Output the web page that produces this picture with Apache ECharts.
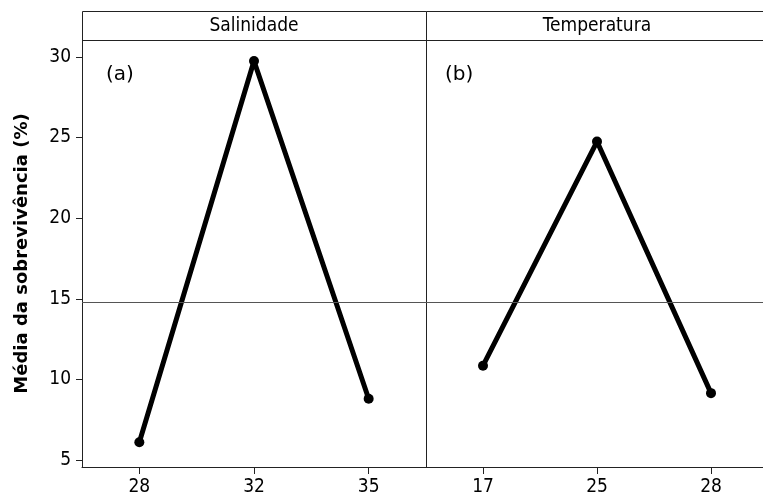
<!DOCTYPE html>
<html>
<head>
<meta charset="utf-8">
<script src="https://cdn.jsdelivr.net/npm/echarts@6/dist/echarts.min.js"></script>
<style>html,body{margin:0;padding:0;background:#fff;overflow:hidden}#c{width:763px;height:500px}</style>
</head>
<body>
<div id="c"></div>
<script>
const salCats = ['28', '32', '35'];
const salVals = [6.1, 29.75, 8.8];
const tempCats = ['17', '25', '28'];
const tempVals = [10.85, 24.75, 9.15];
const meanVal = 14.8;
const yTicks = [5, 10, 15, 20, 25, 30];
const panelNames = ['Salinidade', 'Temperatura'];
const panelTags = ['(a)', '(b)'];
const yName = 'Média da sobrevivência (%)';

const FONT = 'DejaVu Sans Condensed';
const chart = echarts.init(document.getElementById('c'), null, {renderer: 'canvas'});

function xAx(idx, cats) {
  return {
    type: 'category', gridIndex: idx, data: cats, boundaryGap: true,
    axisLine: {show: true, lineStyle: {color: '#222', width: 1}},
    axisTick: {show: true, alignWithLabel: true, length: 7, lineStyle: {color: '#222'}},
    axisLabel: {color: '#000', fontFamily: FONT, fontSize: 19, margin: 11},
    splitLine: {show: false}
  };
}
function yAx(idx, show) {
  return {
    type: 'value', gridIndex: idx, min: 4.57, max: 31.05,
    name: show ? yName : '', nameLocation: 'middle', nameGap: 51,
    nameTextStyle: {fontFamily: 'DejaVu Sans', fontWeight: 'bold', fontSize: 18, color: '#000'},
    axisLine: {show: true, lineStyle: {color: '#222', width: 1}},
    axisTick: {show: show, length: 6, customValues: yTicks, lineStyle: {color: '#222'}},
    axisLabel: {show: show, customValues: yTicks, color: '#000', fontFamily: FONT, fontSize: 19, margin: 11},
    splitLine: {show: false}
  };
}
function ser(idx, vals) {
  return {
    type: 'line', xAxisIndex: idx, yAxisIndex: idx, data: vals,
    symbol: 'circle', symbolSize: 10, showSymbol: true,
    lineStyle: {color: '#000', width: 5}, itemStyle: {color: '#000'},
    animation: false, silent: true,
    markLine: {
      silent: true, symbol: 'none', label: {show: false},
      lineStyle: {color: '#555', width: 1, type: 'solid'},
      data: [{yAxis: meanVal}]
    }
  };
}

chart.setOption({
  animation: false,
  grid: [
    {left: 82, top: 40, width: 344, bottom: 33, outerBoundsMode: 'none', containLabel: false, show: false},
    {left: 426, top: 40, width: 342, bottom: 33, outerBoundsMode: 'none', containLabel: false, show: false}
  ],
  xAxis: [xAx(0, salCats), xAx(1, tempCats)],
  yAxis: [yAx(0, true), yAx(1, false)],
  series: [ser(0, salVals), ser(1, tempVals)],
  graphic: [
    {type: 'rect', shape: {x: 82.5, y: 11.5, width: 344, height: 29}, style: {fill: '#fff', stroke: '#222', lineWidth: 1}},
    {type: 'rect', shape: {x: 426.5, y: 11.5, width: 345, height: 29}, style: {fill: '#fff', stroke: '#222', lineWidth: 1}},
    {type: 'text', x: 254, y: 26, style: {text: panelNames[0], fontFamily: FONT, fontSize: 19, fill: '#000', align: 'center', verticalAlign: 'middle'}},
    {type: 'text', x: 597, y: 26, style: {text: panelNames[1], fontFamily: FONT, fontSize: 19, fill: '#000', align: 'center', verticalAlign: 'middle'}},
    {type: 'text', x: 106, y: 75, style: {text: panelTags[0], fontFamily: 'DejaVu Sans', fontSize: 20, fill: '#000', align: 'left', verticalAlign: 'middle'}},
    {type: 'text', x: 445, y: 75, style: {text: panelTags[1], fontFamily: 'DejaVu Sans', fontSize: 20, fill: '#000', align: 'left', verticalAlign: 'middle'}}
  ]
});
</script>
</body>
</html>
